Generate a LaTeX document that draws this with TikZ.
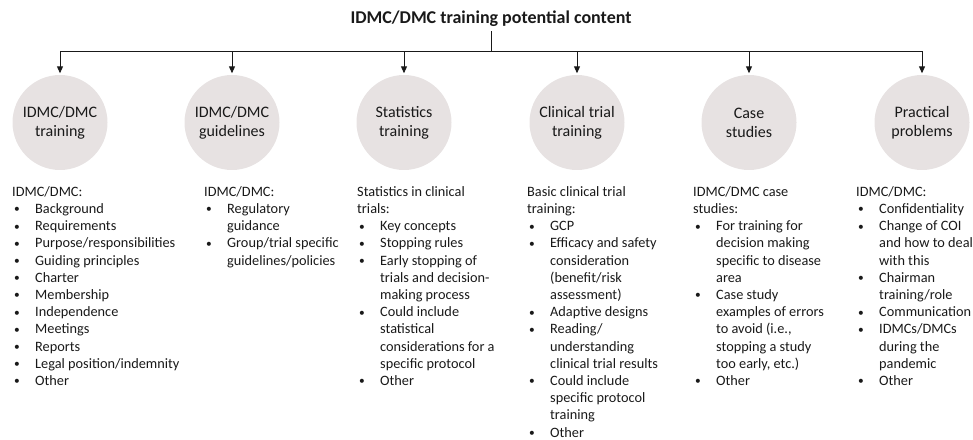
\documentclass[tikz,border=0pt]{standalone}
\usepackage{fontspec}
\usepackage{graphicx}
\setmainfont{Carlito}
\usetikzlibrary{arrows.meta}
\definecolor{circfill}{RGB}{231,226,226}
\definecolor{txt}{RGB}{25,25,25}
\newcommand{\bi}{\makebox[23pt][l]{\hspace{2pt}\raisebox{0.6pt}{\scalebox{0.8}{\textbullet}}}}
\newcommand{\ci}{\hspace*{23pt}}
\newcommand{\fs}{\rule{0pt}{12pt}}
\tikzset{
  circnode/.style={circle, fill=circfill, minimum size=95pt, inner sep=0pt, align=center,
    text=txt, font=\fontsize{16}{19}\selectfont},
  listnode/.style={anchor=north west, inner sep=0pt, align=left, text=txt,
    font=\fontsize{14.3}{17.2}\selectfont},
  titlenode/.style={font=\fontsize{18}{21}\selectfont\bfseries, text=txt, inner xsep=2pt, inner ysep=5pt, anchor=base},
  conn/.style={line width=1pt, draw=txt},
  arr/.style={conn, -{Triangle[length=7pt,width=6pt]}}
}
\begin{document}
\begin{tikzpicture}[x=1pt,y=-1pt]
\useasboundingbox (0,0) rectangle (973,439);
\node[titlenode] (t) at (491,23) {IDMC/DMC training potential content};
\coordinate (h) at (491,51);
\node[circnode] (c1) at (60,122.5) {IDMC/DMC\\training};
\node[circnode] (c2) at (232,122.5) {IDMC/DMC\\guidelines};
\node[circnode] (c3) at (404,122.5) {Statistics\\training};
\node[circnode] (c4) at (577,122.5) {Clinical trial\\training};
\node[circnode] (c5) at (749,122.5) {Case\\studies};
\node[circnode] (c6) at (922,122.5) {Practical\\problems};
\draw[conn] (t.south) -- (h);
\draw[conn] (c1 |- h) -- (c6 |- h);
\foreach \c in {c1,c2,c3,c4,c5,c6}{
  \draw[arr] (\c |- h) -- ([yshift=1.5pt]\c.north);
}
\node[listnode] (l1) at (12,184) {\fs IDMC/DMC:\\
\bi Background\\
\bi Requirements\\
\bi Purpose/responsibilities\\
\bi Guiding principles\\
\bi Charter\\
\bi Membership\\
\bi Independence\\
\bi Meetings\\
\bi Reports\\
\bi Legal position/indemnity\\
\bi Other};
\node[listnode] (l2) at (204,184) {\fs IDMC/DMC:\\
\bi Regulatory\\
\ci guidance\\
\bi Group/trial specific\\
\ci guidelines/policies};
\node[listnode] (l3) at (357,184) {\fs Statistics in clinical\\
trials:\\
\bi Key concepts\\
\bi Stopping rules\\
\bi Early stopping of\\
\ci trials and decision-\\
\ci making process\\
\bi Could include\\
\ci statistical\\
\ci considerations for a\\
\ci specific protocol\\
\bi Other};
\node[listnode] (l4) at (527,184) {\fs Basic clinical trial\\
training:\\
\bi GCP\\
\bi Efficacy and safety\\
\ci consideration\\
\ci (benefit/risk\\
\ci assessment)\\
\bi Adaptive designs\\
\bi Reading/\\
\ci understanding\\
\ci clinical trial results\\
\bi Could include\\
\ci specific protocol\\
\ci training\\
\bi Other};
\node[listnode] (l5) at (693,184) {\fs IDMC/DMC case\\
studies:\\
\bi For training for\\
\ci decision making\\
\ci specific to disease\\
\ci area\\
\bi Case study\\
\ci examples of errors\\
\ci to avoid (i.e.,\\
\ci stopping a study\\
\ci too early, etc.)\\
\bi Other};
\node[listnode] (l6) at (856,184) {\fs IDMC/DMC:\\
\bi Confidentiality\\
\bi Change of COI\\
\ci and how to deal\\
\ci with this\\
\bi Chairman\\
\ci training/role\\
\bi Communication\\
\bi IDMCs/DMCs\\
\ci during the\\
\ci pandemic\\
\bi Other};
\end{tikzpicture}
\end{document}
